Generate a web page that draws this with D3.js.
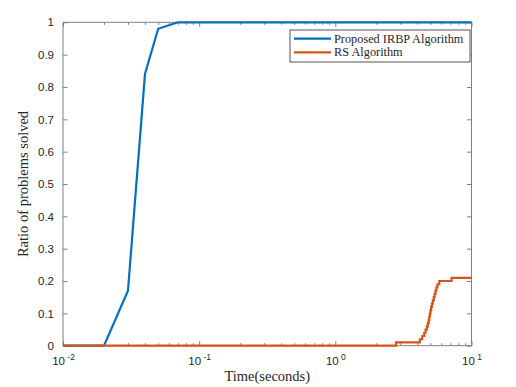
<!DOCTYPE html>
<html>
<head>
<meta charset="utf-8">
<script src="https://cdn.jsdelivr.net/npm/d3@7"></script>
<style>
  body { margin: 0; background: #fff; }
  svg { display: block; }
</style>
</head>
<body>
<div id="chart"></div>
<script>
// data
const irbpTime = [0.01, 0.02, 0.03, 0.04, 0.05, 0.07, 10];
const irbpRatio = [0, 0, 0.17, 0.84, 0.98, 1, 1];

const rsTime = [0.01, 2.79, 4.18, 4.35, 4.5, 4.6, 4.7, 4.78, 4.85, 4.9, 4.95, 5.0,
    5.05, 5.12, 5.2, 5.28, 5.36, 5.44, 5.52, 5.62, 5.8, 7.14, 10];
const rsRatio = [0, 0.01, 0.02, 0.03, 0.04, 0.05, 0.06, 0.07, 0.08, 0.09, 0.1, 0.11,
    0.12, 0.13, 0.14, 0.15, 0.16, 0.17, 0.18, 0.19, 0.2, 0.21, 0.21];

const yTicks = [0, 0.1, 0.2, 0.3, 0.4, 0.5, 0.6, 0.7, 0.8, 0.9, 1];
const xTicks = [0.01, 0.1, 1, 10];
const xTickExp = ['-2', '-1', '0', '1'];

const seriesNames = ['Proposed IRBP Algorithm', 'RS Algorithm'];
const colors = ['#0072BD', '#D95319'];

const W = 516, H = 387;
const plotL = 63, plotR = 471.5, plotT = 22.3, plotB = 345.7;
const axisColor = '#808080';
const textColor = '#262626';

const svg = d3.select('#chart').append('svg')
    .attr('width', W)
    .attr('height', H);

const x = d3.scaleLog().domain([0.01, 10]).range([plotL, plotR]);
const y = d3.scaleLinear().domain([0, 1]).range([plotB, plotT]);

// minor ticks on the log axis (2..9 in every decade)
const minor = x.ticks().filter(v =>
    Math.abs(Math.log10(v) - Math.round(Math.log10(v))) > 1e-9);

function styleAxis(g) {
    g.select('.domain').remove();
    g.selectAll('line').attr('stroke', axisColor);
    g.selectAll('text')
        .attr('fill', textColor)
        .style('font-family', '"Liberation Sans", Arial, sans-serif')
        .style('font-size', '11.5px');
}

// box
svg.append('rect')
    .attr('x', plotL).attr('y', plotT)
    .attr('width', plotR - plotL).attr('height', plotB - plotT)
    .attr('fill', 'none')
    .attr('stroke', axisColor)
    .attr('stroke-width', 1);

// bottom axis, major
const gxb = svg.append('g')
    .attr('transform', `translate(0,${plotB})`)
    .call(d3.axisBottom(x).tickValues(xTicks).tickSizeInner(-4.5).tickSizeOuter(0).tickPadding(10))
    .call(styleAxis);

gxb.selectAll('.tick text').each(function(d, i) {
    const t = d3.select(this).text('');
    t.attr('dy', null).attr('y', 19);
    t.append('tspan').text('10');
    t.append('tspan').attr('dy', -5).style('font-size', '8.5px').text(' ' + xTickExp[i]);
});

// bottom minor
svg.append('g')
    .attr('transform', `translate(0,${plotB})`)
    .call(d3.axisBottom(x).tickValues(minor).tickSizeInner(-2.5).tickSizeOuter(0).tickFormat(''))
    .call(styleAxis);

// top axis (ticks only)
svg.append('g')
    .attr('transform', `translate(0,${plotT})`)
    .call(d3.axisTop(x).tickValues(xTicks).tickSizeInner(-4.5).tickSizeOuter(0).tickFormat(''))
    .call(styleAxis);
svg.append('g')
    .attr('transform', `translate(0,${plotT})`)
    .call(d3.axisTop(x).tickValues(minor).tickSizeInner(-2.5).tickSizeOuter(0).tickFormat(''))
    .call(styleAxis);

// left axis
svg.append('g')
    .attr('transform', `translate(${plotL},0)`)
    .call(d3.axisLeft(y).tickValues(yTicks).tickSizeInner(-4.5).tickSizeOuter(0).tickPadding(9)
        .tickFormat(d => d === 0 || d === 1 ? String(d) : d.toFixed(1)))
    .call(styleAxis);

// right axis
svg.append('g')
    .attr('transform', `translate(${plotR},0)`)
    .call(d3.axisRight(y).tickValues(yTicks).tickSizeInner(-4.5).tickSizeOuter(0).tickFormat(''))
    .call(styleAxis);

// lines
const irbp = irbpTime.map((t, i) => [t, irbpRatio[i]]);
const rs = rsTime.map((t, i) => [t, rsRatio[i]]);

const line = d3.line().x(d => x(d[0])).y(d => y(d[1]));
const stepLine = d3.line().x(d => x(d[0])).y(d => y(d[1])).curve(d3.curveStepAfter);

svg.append('path')
    .datum(irbp)
    .attr('d', line)
    .attr('fill', 'none')
    .attr('stroke', colors[0])
    .attr('stroke-width', 2.2);

svg.append('path')
    .datum(rs)
    .attr('d', stepLine)
    .attr('fill', 'none')
    .attr('stroke', colors[1])
    .attr('stroke-width', 2.2);

// axis labels
svg.append('text')
    .attr('x', (plotL + plotR) / 2)
    .attr('y', 381)
    .attr('text-anchor', 'middle')
    .attr('fill', textColor)
    .style('font-family', '"Liberation Serif", "Times New Roman", serif')
    .style('font-size', '14.5px')
    .text('Time(seconds)');

svg.append('text')
    .attr('transform', `translate(28,${(plotT + plotB) / 2}) rotate(-90)`)
    .attr('text-anchor', 'middle')
    .attr('fill', textColor)
    .style('font-family', '"Liberation Serif", "Times New Roman", serif')
    .style('font-size', '14.5px')
    .text('Ratio of problems solved');

// legend
const legend = svg.append('g').attr('transform', 'translate(290,30)');
legend.append('rect')
    .attr('width', 180).attr('height', 32)
    .attr('fill', '#fff')
    .attr('stroke', '#555')
    .attr('stroke-width', 1);

seriesNames.forEach((name, i) => {
    const yy = 8.7 + i * 13.6;
    legend.append('line')
        .attr('x1', 4).attr('x2', 41)
        .attr('y1', yy).attr('y2', yy)
        .attr('stroke', colors[i])
        .attr('stroke-width', 2.2);
    legend.append('text')
        .attr('x', 44).attr('y', yy + 4)
        .attr('fill', textColor)
        .style('font-family', '"Liberation Serif", "Times New Roman", serif')
        .style('font-size', '12.3px')
        .text(name);
});
</script>
</body>
</html>
